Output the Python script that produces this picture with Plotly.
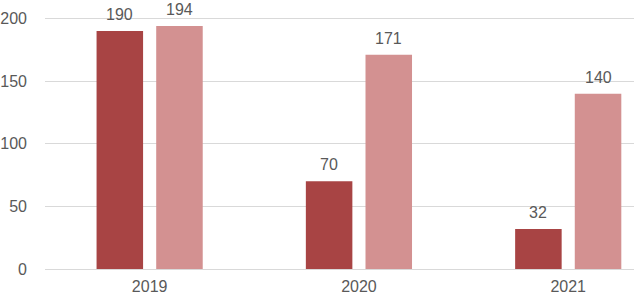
import plotly.graph_objects as go

years = ["2019", "2020", "2021"]
series_a = [190, 70, 32]
series_b = [194, 171, 140]
y_ticks = [0, 50, 100, 150, 200]

col_a = "#A84444"
col_b = "#D39191"
txt = "#595959"
font_family = "Liberation Sans"
fs = 16

xpos = list(range(len(years)))

fig = go.Figure()
fig.add_trace(go.Bar(x=xpos, y=series_a, marker=dict(color=col_a, line=dict(width=0)), showlegend=False))
fig.add_trace(go.Bar(x=xpos, y=series_b, marker=dict(color=col_b, line=dict(width=0)), showlegend=False))

annotations = []
for i, v in enumerate(series_a):
    annotations.append(dict(x=i, y=v, xshift=-30, yshift=7, text=str(v), showarrow=False, borderpad=0,
                            yanchor="bottom", xanchor="center", font=dict(size=fs, color=txt, family=font_family)))
for i, v in enumerate(series_b):
    annotations.append(dict(x=i, y=v, xshift=30, yshift=7, text=str(v), showarrow=False, borderpad=0,
                            yanchor="bottom", xanchor="center", font=dict(size=fs, color=txt, family=font_family)))

fig.update_layout(
    width=634, height=297,
    margin=dict(l=43, r=0, t=16, b=28),
    paper_bgcolor="white", plot_bgcolor="white",
    barmode="group", bargap=0.43, bargroupgap=0.22,
    font=dict(family=font_family, size=fs, color=txt),
    annotations=annotations,
    xaxis=dict(
        tickmode="array", tickvals=xpos, ticktext=years,
        range=[-0.5, -0.5 + 591 / 210], showgrid=False, zeroline=False, showline=False,
        ticks="", ticklabelstandoff=6, tickfont=dict(size=fs, color=txt),
    ),
    yaxis=dict(
        range=[0, 202], tickvals=y_ticks, showgrid=True, gridcolor="#D9D9D9", gridwidth=1,
        zeroline=True, zerolinecolor="#D9D9D9", zerolinewidth=1, showline=False,
        ticks="", ticklabelstandoff=17, tickfont=dict(size=fs, color=txt),
    ),
)

fig.write_html(
    "out.html",
    config={"displayModeBar": False},
    post_script="document.body.style.margin='0';document.body.style.overflow='hidden';",
)
